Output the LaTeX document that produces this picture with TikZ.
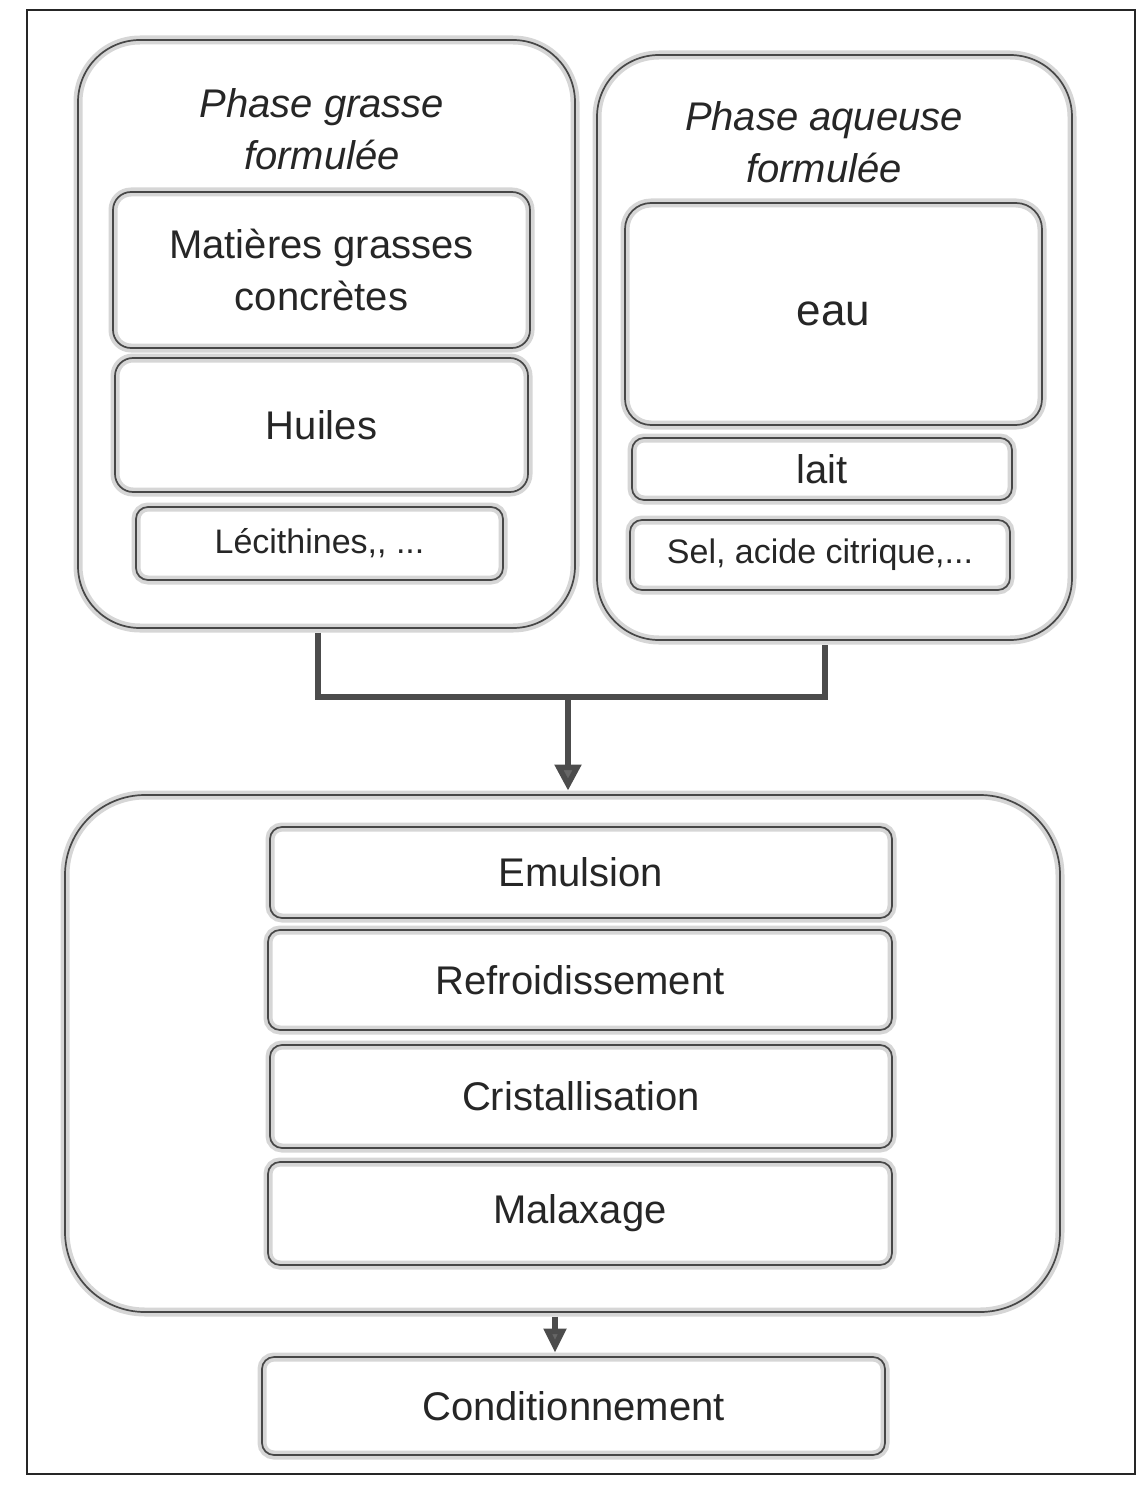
\documentclass[tikz,border=0pt]{standalone}
\usepackage{fontspec}
\setmainfont{Liberation Sans}
\usetikzlibrary{arrows.meta}
\begin{document}
\begin{tikzpicture}[x=1pt,y=-1pt,
  frame/.style={draw=black!85,line width=2.4pt},
  panel/.style={rectangle,rounded corners=#1,fill=white,draw=black!16,line width=9pt,
    postaction={draw=black!72,line width=1.7pt},inner sep=0pt,text=black!85,
    font=\fontsize{40}{52}\selectfont,align=center},
  panel/.default=18pt,
  sz/.style 2 args={minimum width=#1,minimum height=#2},
  title/.style={font=\itshape\fontsize{40}{52}\selectfont,text=black!85,align=center},
  small/.style={font=\fontsize{34}{44}\selectfont},
  conn/.style={draw=black!70,line width=5.5pt},
  tip/.style={-{Triangle[width=26pt,length=26pt,fill=black!60]}}
]
\useasboundingbox (0,0) rectangle (1139,1487);
\draw[frame] (27,10) rectangle (1135,1474);

% two input phases
\node[panel=62pt,sz={497pt}{588pt}] (lg) at (326.5,334) {};
\node[title] (lgt) at (322,129) {Phase grasse\\formulée};
\node[panel=62pt,sz={475pt}{585pt}] (rg) at (834.5,347.5) {};
\node[title] (rgt) at (824,142) {Phase aqueuse\\formulée};

\node[panel,sz={417pt}{156pt}] (mat) at (321.5,270) {Matières grasses\\concrètes};
\node[panel,sz={413pt}{134pt}] (hui) at (321.5,425) {Huiles};
\node[panel=12pt,sz={367pt}{73pt},small] (lec) at (319.5,543.5) {Lécithines,{},{} ...};

\node[panel=26pt,sz={417pt}{222pt},font=\fontsize{44}{52}\selectfont] (eau) at (833.5,314) {eau};
\node[panel=12pt,sz={380pt}{62pt}] (lai) at (822,469) {lait};
\node[panel=12pt,sz={380pt}{70pt},small] (sel) at (820,555) {Sel, acide citrique,...};

% process block
\node[panel=80pt,sz={995pt}{517pt}] (proc) at (562.5,1053.5) {};
\node[panel=12pt,sz={622pt}{91pt}] (emu) at (581,872.5) {Emulsion};
\node[panel=12pt,sz={624pt}{100pt}] (ref) at (580,980) {Refroidissement};
\node[panel=12pt,sz={622pt}{103pt}] (cri) at (581,1096.5) {Cristallisation};
\node[panel=12pt,sz={624pt}{103pt}] (mal) at (580,1213.5) {Malaxage};

\node[panel=12pt,sz={623pt}{98pt}] (con) at (573.5,1406) {Conditionnement};

% connectors
\coordinate (lx) at (318,0);
\coordinate (rx) at (825,0);
\coordinate (j) at (568,697);
\coordinate (px) at (555,0);
\draw[conn] (lx |- lg.south) |- (j) -| (rx |- rg.south);
\draw[conn,tip] (j) -- (j |- proc.north);
\draw[conn,-{Triangle[width=22pt,length=24pt,fill=black!60]}] (px |- proc.south) -- (px |- con.north);
\end{tikzpicture}
\end{document}
